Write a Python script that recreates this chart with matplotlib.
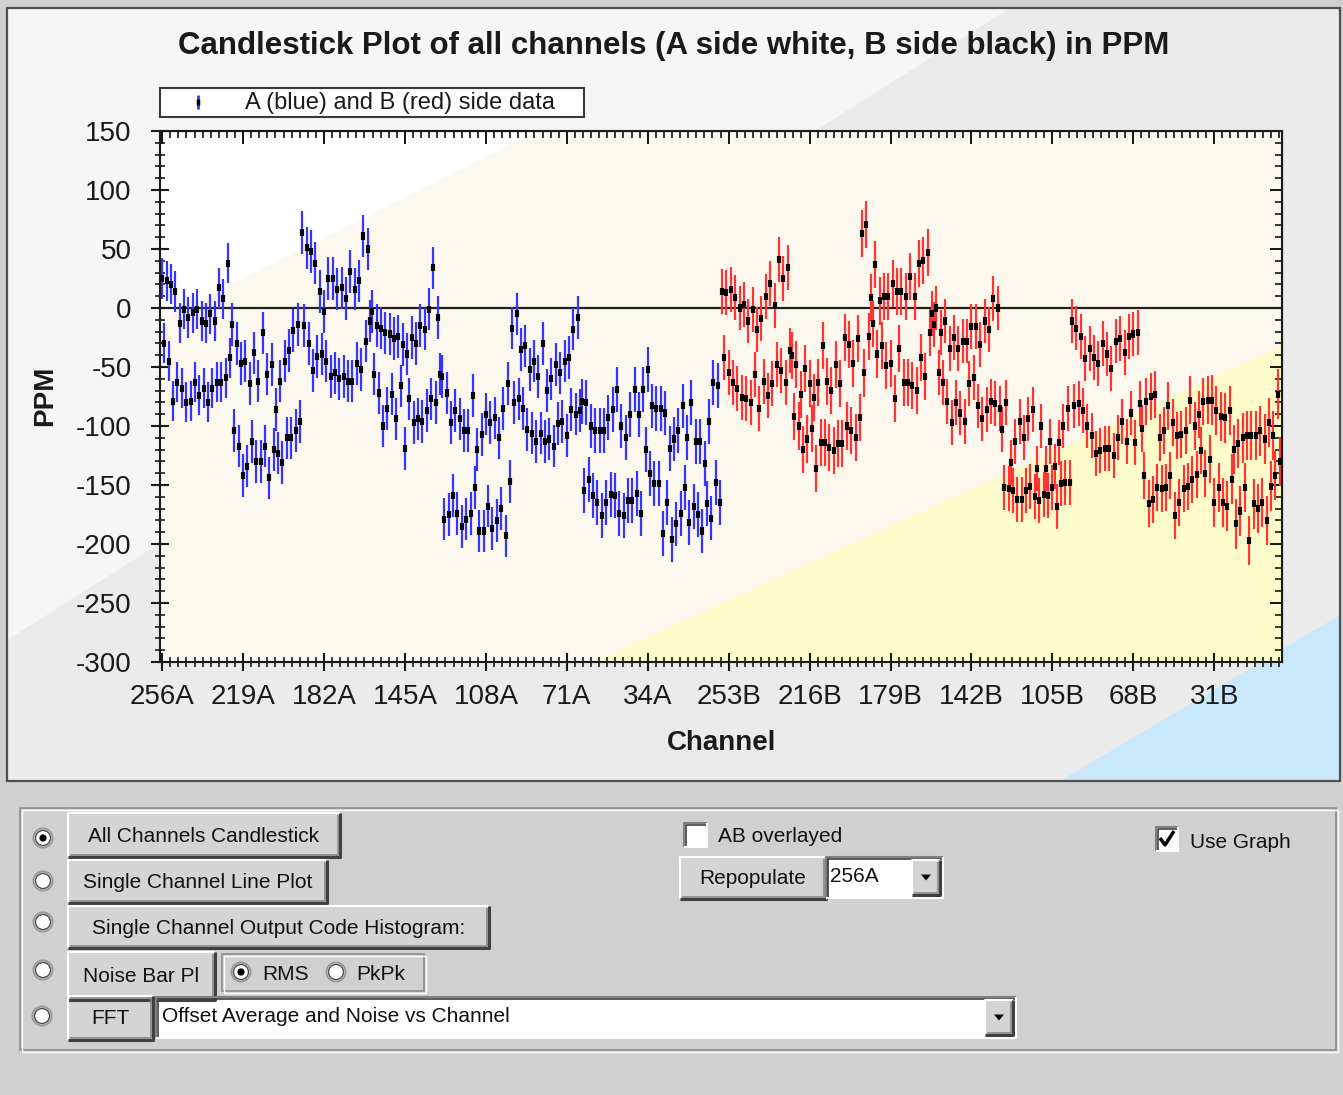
import numpy as np
import matplotlib
matplotlib.use('Agg')
import matplotlib.pyplot as plt
from matplotlib.patches import Rectangle, Polygon, Circle
from matplotlib.ticker import MultipleLocator, FixedLocator, FixedFormatter

plt.rcParams['font.family'] = ['Liberation Sans', 'DejaVu Sans']
plt.rcParams['axes.unicode_minus'] = False

# ---- data (PPM), channels alternate between two tracks, 16 values per 32-channel block ----
a_even = [25, 23, 20, 14, -13, -1, -8, -4, -1, -11, -13, -5, -11, 17, 8, 38,
          -14, -30, -47, -45, -64, -38, -62, -21, -56, -48, -86, -62, -45, -36, -19, -14,
          64, 51, 48, 38, 14, -3, 25, 25, 16, 17, 8, 31, 16, 23, 61, 50,
          -3, -15, -17, -21, -22, -26, -24, -31, -39, -25, -30, -15, -18, -1, 34, -8,
          -58, -72, -97, -87, -94, -104, -104, -74, -120, -107, -90, -97, -93, -110, -85, -64,
          -17, -5, -35, -32, -52, -45, -58, -30, -70, -60, -48, -55, -45, -42, -18, -8,
          -79, -80, -100, -104, -104, -104, -93, -86, -69, -100, -110, -90, -69, -90, -69, -52,
          -83, -85, -85, -89, -119, -111, -104, -83, -110, -80, -113, -113, -132, -96, -63, -66]
a_odd = [-30, -45, -79, -63, -68, -80, -79, -63, -74, -68, -80, -68, -63, -63, -59, -42,
         -104, -117, -142, -134, -113, -130, -130, -117, -144, -120, -123, -131, -110, -110, -104, -96,
         -15, -30, -53, -41, -39, -45, -58, -55, -60, -58, -62, -62, -47, -52, -28, -11,
         -56, -72, -100, -85, -73, -94, -66, -119, -77, -97, -94, -96, -87, -77, -80, -56,
         -179, -175, -159, -174, -185, -179, -174, -152, -189, -189, -168, -187, -180, -170, -193, -147,
         -80, -77, -85, -103, -106, -113, -106, -113, -111, -117, -98, -96, -108, -86, -90, -87,
         -155, -145, -159, -165, -176, -165, -158, -159, -174, -176, -163, -163, -157, -174, -120, -140,
         -149, -149, -191, -165, -196, -183, -174, -152, -182, -168, -175, -189, -166, -178, -148, -165]
b_even = [14, 13, 16, 9, 0, 3, -11, -1, -18, -9, 10, 21, 2, 41, 25, 34,
          -40, -48, -73, -51, -64, -76, -63, -32, -62, -70, -48, -64, -25, -31, -47, -26,
          63, 71, 9, 37, 6, 10, 10, 21, 14, 14, 10, 27, 10, 38, 40, 47,
          -5, 0, -21, -11, -34, -25, -34, -28, -28, -16, -16, -31, -11, -18, 8, 0,
          -103, -80, -131, -113, -96, -110, -94, -86, -136, -100, -136, -113, -134, -114, -100, -85,
          -11, -17, -24, -43, -34, -42, -47, -30, -39, -51, -28, -26, -38, -24, -22, -21,
          -102, -79, -75, -73, -110, -104, -83, -97, -108, -107, -104, -78, -100, -90, -79, -78,
          -78, -87, -92, -93, -87, -120, -115, -110, -108, -108, -108, -104, -111, -97, -108, -73]
b_odd = [-42, -55, -63, -68, -76, -77, -80, -56, -85, -62, -74, -64, -48, -53, -63, -36,
         -92, -100, -120, -111, -102, -136, -114, -114, -118, -121, -115, -115, -100, -104, -110, -93,
         -55, -24, -13, -39, -32, -49, -47, -77, -34, -63, -63, -66, -70, -42, -58, -21,
         -14, -55, -63, -79, -97, -80, -89, -96, -64, -59, -83, -94, -86, -79, -81, -85,
         -152, -153, -155, -162, -162, -155, -151, -160, -163, -158, -159, -152, -168, -149, -148, -148,
         -83, -81, -87, -100, -108, -123, -121, -119, -119, -125, -110, -96, -113, -89, -114, -81,
         -142, -166, -162, -152, -153, -152, -142, -176, -165, -153, -151, -145, -141, -121, -140, -128,
         -165, -152, -165, -168, -145, -183, -172, -152, -197, -166, -170, -165, -180, -151, -142, -130]
# whisker half length per 32-channel block
a_spread = [17, 18, 18, 18, 18, 18, 19, 19]
b_spread = [19, 20, 20, 19, 19, 19, 20, 21]
body_half = 3

tick_labels = ['256A', '219A', '182A', '145A', '108A', '71A', '34A',
               '253B', '216B', '179B', '142B', '105B', '68B', '31B']

a_vals = np.empty(256)
a_vals[0::2] = a_even
a_vals[1::2] = a_odd
b_vals = np.empty(256)
b_vals[0::2] = b_even
b_vals[1::2] = b_odd
a_sp = np.repeat(a_spread, 32)
b_sp = np.repeat(b_spread, 32)
x_a = np.arange(256)
x_b = np.arange(256, 512)

W, H = 1343, 1095
fig = plt.figure(figsize=(W / 100, H / 100), dpi=100)
fig.patch.set_facecolor('#d0d0d0')

# background axes in pixel coords (y down)
bg = fig.add_axes([0, 0, 1, 1])
bg.set_xlim(0, W)
bg.set_ylim(H, 0)
bg.axis('off')


def rect(x0, y0, x1, y1, fc, ec='none', lw=1, z=1):
    bg.add_patch(Rectangle((x0, y0), x1 - x0, y1 - y0, fc=fc, ec=ec, lw=lw, zorder=z))


def line(xs, ys, c, lw=1, z=3):
    bg.plot(xs, ys, color=c, lw=lw, zorder=z, solid_capstyle='butt')


def button(x0, y0, x1, y1, text, fs=15):
    rect(x0, y0, x1, y1, '#d4d4d4', z=2)
    line([x0, x0, x1], [y1, y0, y0], 'white', 1.5)
    line([x0, x1, x1], [y1, y1, y0], '#404040', 2.2)
    line([x0 + 2, x1 - 2, x1 - 2], [y1 - 2, y1 - 2, y0 + 2], '#888888', 1.2)
    bg.text((x0 + x1) / 2, (y0 + y1) / 2 + 1, text, fontsize=fs, ha='center', va='center',
            color='#111111', zorder=4)


def sunken(x0, y0, x1, y1, fc='white'):
    rect(x0, y0, x1, y1, fc, z=2)
    line([x0, x0, x1], [y1, y0, y0], '#808080', 1.5)
    line([x0 + 1.5, x0 + 1.5, x1 - 1.5], [y1 - 1.5, y0 + 1.5, y0 + 1.5], '#404040', 1.2)
    line([x0, x1, x1], [y1, y1, y0], 'white', 1.5)


def radio(cx, cy, on=False, r=9.5):
    bg.add_patch(Circle((cx, cy), r, fc='white', ec='#9a9a9a', lw=1.5, zorder=3))
    bg.add_patch(Circle((cx, cy), r - 2, fc='white', ec='#505050', lw=1.0, zorder=3))
    if on:
        bg.add_patch(Circle((cx, cy), 3.6, fc='black', ec='none', zorder=4))


def dropdown(x0, y0, x1, y1):
    button(x0, y0, x1, y1, '')
    cx, cy = (x0 + x1) / 2, (y0 + y1) / 2
    bg.add_patch(Polygon([[cx - 5, cy - 3], [cx + 5, cy - 3], [cx, cy + 3]], closed=True,
                         fc='black', ec='none', zorder=5))


def etched(x0, y0, x1, y1):
    bg.add_patch(Rectangle((x0, y0), x1 - x0, y1 - y0, fc='none', ec='#8c8c8c', lw=1.2, zorder=2))
    bg.add_patch(Rectangle((x0 + 1.5, y0 + 1.5), x1 - x0, y1 - y0, fc='none', ec='white', lw=1.0, zorder=2))


# ---- chart panel ----
rect(7, 8, 1340, 781, '#ebebeb', z=0)
bg.add_patch(Polygon([[7, 8], [1010, 8], [7, 640]], closed=True, fc='#f6f6f6', ec='none', zorder=0))
bg.add_patch(Polygon([[1060, 781], [1340, 781], [1340, 615]], closed=True, fc='#cae8fb', ec='none', zorder=0))
bg.add_patch(Rectangle((7, 8), 1333, 773, fc='none', ec='#505050', lw=1.6, zorder=1))

# plot area background
rect(160, 131, 1282, 662, '#fdf8ee', z=0.5)
bg.add_patch(Polygon([[160, 131], [538, 131], [160, 320]], closed=True, fc='white', ec='none', zorder=0.6))
bg.add_patch(Polygon([[594, 662], [1282, 662], [1282, 346]], closed=True, fc='#fffccc', ec='none', zorder=0.6))

bg.text(674, 46, 'Candlestick Plot of all channels (A side white, B side black) in PPM',
        fontsize=22.5, fontweight='bold', ha='center', va='center', color='#1a1a1a')
bg.text(722, 743, 'Channel', fontsize=20, fontweight='bold', ha='center', va='center', color='#1a1a1a')
bg.text(45, 396, 'PPM', fontsize=20, fontweight='bold', ha='center', va='center', rotation=90,
        color='#1a1a1a')

# legend box
bg.add_patch(Rectangle((160, 88), 424, 29, fc='white', ec='#3a3a3a', lw=1.5, zorder=2))
line([198, 198], [95, 109], '#3a3aff', 2.0, z=4)
line([198, 198], [99, 105], 'black', 2.5, z=5)
bg.text(245, 103, 'A (blue) and B (red) side data', fontsize=17, ha='left', va='center',
        color='#1a1a1a', zorder=4)

# ---- plot axes ----
ax = fig.add_axes([160 / W, (H - 662) / H, 1122 / W, 531 / H])
ax.set_facecolor('none')
ax.vlines(x_a, a_vals - a_sp, a_vals + a_sp, color='#3535ff', lw=1.6, zorder=2)
ax.vlines(x_b, b_vals - b_sp, b_vals + b_sp, color='#ff3535', lw=1.6, zorder=2)
ax.vlines(x_a, a_vals - body_half, a_vals + body_half, color='black', lw=3.0, zorder=3)
ax.vlines(x_b, b_vals - body_half, b_vals + body_half, color='black', lw=3.0, zorder=3)
ax.axhline(0, color='#202020', lw=1.6, zorder=1)

ax.set_xlim(-1, 512)
ax.set_ylim(-300, 150)
tick_pos = np.arange(len(tick_labels)) * 37
ax.xaxis.set_major_locator(FixedLocator(tick_pos))
ax.xaxis.set_major_formatter(FixedFormatter(tick_labels))
ax.xaxis.set_minor_locator(MultipleLocator(3.7))
ax.yaxis.set_major_locator(MultipleLocator(50))
ax.yaxis.set_minor_locator(MultipleLocator(10))
ax.tick_params(which='major', direction='inout', length=13, width=1.5, labelsize=20,
               colors='#1a1a1a')
ax.tick_params(which='minor', direction='inout', length=7, width=1.2, colors='#1a1a1a')
ax.tick_params(axis='y', which='major', pad=14)
ax.tick_params(axis='x', which='major', pad=9)
for s in ax.spines.values():
    s.set_linewidth(1.5)
    s.set_color('#1a1a1a')

secx = ax.secondary_xaxis('top')
secx.xaxis.set_major_locator(FixedLocator(tick_pos))
secx.xaxis.set_minor_locator(MultipleLocator(3.7))
secx.tick_params(which='major', direction='in', length=9, width=1.3, labeltop=False)
secx.tick_params(which='minor', direction='in', length=5, width=1.1)
secy = ax.secondary_yaxis('right')
secy.yaxis.set_major_locator(MultipleLocator(50))
secy.yaxis.set_minor_locator(MultipleLocator(10))
secy.tick_params(which='major', direction='in', length=9, width=1.3, labelright=False)
secy.tick_params(which='minor', direction='in', length=5, width=1.1)

# ---- control panel ----
rect(0, 781, W, H, '#d0d0d0', z=0)
etched(20, 808, 1336, 1050)

radio(43, 838, on=True)
radio(43, 881)
radio(43, 922)
radio(43, 970)
radio(42, 1016)

button(68, 813, 340, 857, 'All Channels Candlestick')
button(68, 860, 327, 903, 'Single Channel Line Plot')
button(68, 906, 489, 948, 'Single Channel Output Code Histogram:')
button(68, 952, 215, 1000, 'Noise Bar Pl')
etched(222, 954, 424, 991)
radio(241, 972, on=True)
bg.text(262, 974, 'RMS', fontsize=15, ha='left', va='center', color='#111111', zorder=4)
radio(336, 972)
bg.text(356, 974, 'PkPk', fontsize=15, ha='left', va='center', color='#111111', zorder=4)
button(68, 996, 153, 1040, 'FFT')
sunken(156, 997, 1016, 1038)
bg.text(162, 1017, 'Offset Average and Noise vs Channel', fontsize=15, ha='left', va='center',
        color='#111111', zorder=4)
dropdown(985, 1000, 1013, 1035)

sunken(684, 823, 707, 847)
bg.text(718, 836, 'AB overlayed', fontsize=15, ha='left', va='center', color='#111111', zorder=4)
button(680, 857, 826, 899, 'Repopulate')
sunken(826, 857, 943, 898)
bg.text(830, 877, '256A', fontsize=15, ha='left', va='center', color='#111111', zorder=4)
dropdown(912, 860, 940, 895)

sunken(1156, 827, 1178, 851)
line([1160, 1165, 1174], [838, 845, 831], 'black', 2.5, z=5)
bg.text(1190, 842, 'Use Graph', fontsize=15, ha='left', va='center', color='#111111', zorder=4)

fig.savefig('out.png', dpi=100)
